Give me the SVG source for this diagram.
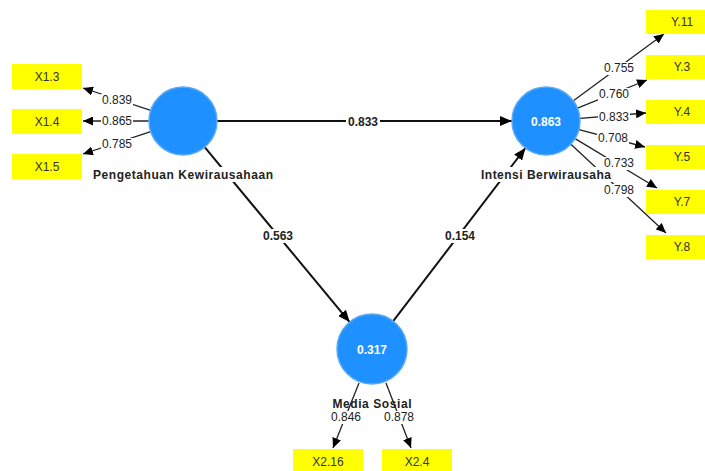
<svg xmlns="http://www.w3.org/2000/svg" width="705" height="471" viewBox="0 0 705 471">
<style>
.box{fill:#FFFF00;}
.bt{font-family:"Liberation Sans",Arial,sans-serif;font-size:12px;fill:#333;text-anchor:middle;}
.lv{fill:#1E90FF;stroke:#5aaaf5;stroke-width:1.5;}
.lvt{font-family:"Liberation Sans",Arial,sans-serif;font-size:12px;font-weight:bold;fill:#fff;text-anchor:middle;}
.nm{font-family:"Liberation Sans",Arial,sans-serif;font-size:12px;font-weight:bold;fill:#222;text-anchor:middle;}
.ol{stroke:#222;stroke-width:1.3;fill:none;marker-end:url(#ah);}
.pl{stroke:#111;stroke-width:2;fill:none;marker-end:url(#ahb);}
.lt{font-family:"Liberation Sans",Arial,sans-serif;font-size:12px;fill:#222;text-anchor:middle;}
.pt{font-family:"Liberation Sans",Arial,sans-serif;font-size:12px;font-weight:bold;fill:#222;text-anchor:middle;}
.bg{fill:#fff;}
</style>
<defs>
<marker id="ah" markerUnits="userSpaceOnUse" markerWidth="10" markerHeight="9" refX="10" refY="4.5" orient="auto"><path d="M0,0 L10,4.5 L0,9 z" fill="#000"/></marker>
<marker id="ahb" markerUnits="userSpaceOnUse" markerWidth="12" markerHeight="10" refX="12" refY="5" orient="auto"><path d="M0,0 L12,5 L0,10 z" fill="#000"/></marker>
</defs>
<rect width="705" height="471" fill="#fff"/>
<g id="connectors">
<line class="ol" x1="150.7" y1="110.4" x2="83" y2="88"/>
<line class="ol" x1="149" y1="121" x2="83" y2="121"/>
<line class="ol" x1="150.7" y1="131.6" x2="83" y2="154"/>
<line class="ol" x1="573.4" y1="100.8" x2="664" y2="34"/>
<line class="ol" x1="577.5" y1="108.2" x2="647" y2="80"/>
<line class="ol" x1="580" y1="118.3" x2="646" y2="113"/>
<line class="ol" x1="578.9" y1="129.6" x2="645" y2="147"/>
<line class="ol" x1="575.1" y1="138.6" x2="657" y2="188"/>
<line class="ol" x1="570.9" y1="144.2" x2="666" y2="233"/>
<line class="ol" x1="359" y1="383" x2="333" y2="448"/>
<line class="ol" x1="386" y1="383" x2="411" y2="448"/>
<line class="pl" x1="217" y1="121" x2="512" y2="121"/>
<line class="pl" x1="204.7" y1="147.2" x2="349.7" y2="322.1"/>
<line class="pl" x1="393.2" y1="321.2" x2="525.4" y2="148"/>
<rect class="bg" x="101" y="94" width="32" height="13"/>
<text class="lt" x="117" y="104">0.839</text>
<rect class="bg" x="101" y="115" width="32" height="13"/>
<text class="lt" x="117" y="125">0.865</text>
<rect class="bg" x="101" y="138" width="32" height="13"/>
<text class="lt" x="117" y="148">0.785</text>
<rect class="bg" x="603" y="62" width="32" height="13"/>
<text class="lt" x="619" y="72">0.755</text>
<rect class="bg" x="598" y="88" width="32" height="13"/>
<text class="lt" x="614" y="98">0.760</text>
<rect class="bg" x="598" y="111" width="32" height="13"/>
<text class="lt" x="614" y="121">0.833</text>
<rect class="bg" x="597" y="132" width="32" height="13"/>
<text class="lt" x="613" y="142">0.708</text>
<rect class="bg" x="603" y="157" width="32" height="13"/>
<text class="lt" x="619" y="167">0.733</text>
<rect class="bg" x="603" y="184" width="32" height="13"/>
<text class="lt" x="619" y="194">0.798</text>
<rect class="bg" x="330" y="411" width="32" height="13"/>
<text class="lt" x="346" y="421">0.846</text>
<rect class="bg" x="383" y="411" width="32" height="13"/>
<text class="lt" x="399" y="421">0.878</text>
<rect class="bg" x="346" y="115" width="34" height="14"/>
<text class="pt" x="363" y="126">0.833</text>
<rect class="bg" x="261" y="229" width="34" height="14"/>
<text class="pt" x="278" y="240">0.563</text>
<rect class="bg" x="443" y="229" width="34" height="14"/>
<text class="pt" x="460" y="240">0.154</text>
</g>
<g id="X1.3"><rect class="box" x="12" y="64" width="70" height="25"/><text class="bt" x="47" y="80.5">X1.3</text></g>
<g id="X1.4"><rect class="box" x="12" y="109" width="70" height="25"/><text class="bt" x="47" y="125.5">X1.4</text></g>
<g id="X1.5"><rect class="box" x="12" y="154" width="70" height="25"/><text class="bt" x="47" y="170.5">X1.5</text></g>
<g id="Y.11"><rect class="box" x="646" y="10" width="72" height="24"/><text class="bt" x="682" y="26">Y.11</text></g>
<g id="Y.3"><rect class="box" x="646" y="55" width="72" height="24"/><text class="bt" x="682" y="71">Y.3</text></g>
<g id="Y.4"><rect class="box" x="646" y="100" width="72" height="24"/><text class="bt" x="682" y="116">Y.4</text></g>
<g id="Y.5"><rect class="box" x="646" y="145" width="72" height="24"/><text class="bt" x="682" y="161">Y.5</text></g>
<g id="Y.7"><rect class="box" x="646" y="190" width="72" height="24"/><text class="bt" x="682" y="206">Y.7</text></g>
<g id="Y.8"><rect class="box" x="646" y="235" width="72" height="24"/><text class="bt" x="682" y="251">Y.8</text></g>
<g id="X2.16"><rect class="box" x="293" y="449" width="70" height="25"/><text class="bt" x="328" y="466">X2.16</text></g>
<g id="X2.4"><rect class="box" x="382" y="449" width="70" height="25"/><text class="bt" x="417" y="466">X2.4</text></g>
<g id="PengetahuanKewirausahaan">
<circle class="lv" cx="183" cy="121" r="34"/>
<rect class="bg" x="92" y="167" width="182" height="15"/>
<text class="nm" x="183" y="179" textLength="180" lengthAdjust="spacing">Pengetahuan Kewirausahaan</text>
</g>
<g id="IntensiBerwirausaha">
<circle class="lv" cx="546" cy="121" r="34"/>
<text class="lvt" x="546" y="125.5">0.863</text>
<rect class="bg" x="480" y="167" width="132" height="15"/>
<text class="nm" x="546" y="179" textLength="130" lengthAdjust="spacing">Intensi Berwirausaha</text>
</g>
<g id="MediaSosial">
<circle class="lv" cx="372" cy="349" r="35"/>
<text class="lvt" x="372" y="353.5">0.317</text>
<text class="nm" x="372" y="408" textLength="79" lengthAdjust="spacing">Media Sosial</text>
</g>
</svg>
